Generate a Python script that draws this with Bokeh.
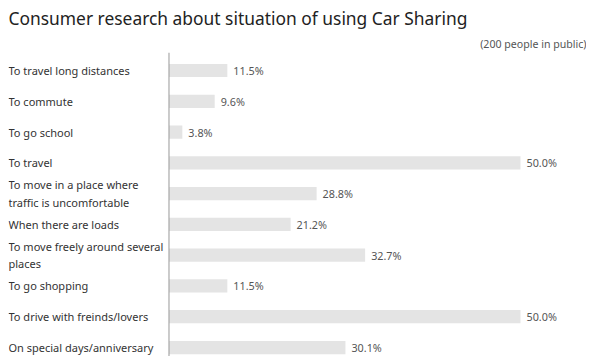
from bokeh.plotting import figure
from bokeh.models import ColumnDataSource, Range1d, Span, Title
from bokeh.core.properties import value
from bokeh.embed import file_html
from bokeh.resources import INLINE

# ---- data ----
categories = [
    "To travel long distances",
    "To commute",
    "To go school",
    "To travel",
    "To move in a place where\ntraffic is uncomfortable",
    "When there are loads",
    "To move freely around several\nplaces",
    "To go shopping",
    "To drive with freinds/lovers",
    "On special days/anniversary",
]
value_labels = ["11.5%", "9.6%", "3.8%", "50.0%", "28.8%", "21.2%", "32.7%", "11.5%", "50.0%", "30.1%"]
# bar lengths as drawn in the reference (in % units; 50% bar = full length)
bar_lengths = [8.3, 6.5, 1.9, 50.0, 21.0, 17.3, 27.9, 8.3, 50.0, 25.1]

title_text = "Consumer research about situation of using Car Sharing"
subtitle_text = "(200 people in public)"

FONT = "Noto Sans"

rows = list(range(len(categories)))
src = ColumnDataSource(dict(cat=categories, lab=value_labels, val=bar_lengths, row=rows))

x_start, x_end = -22.83, 59.39
p = figure(width=586, height=356, output_backend="svg", toolbar_location=None,
           x_range=Range1d(x_start, x_end), y_range=Range1d(9.292, -0.585),
           min_border_left=8, min_border_right=0, min_border_bottom=0, min_border_top=0,
           title=None)
p.axis.visible = False
p.grid.visible = False
p.outline_line_color = None
p.background_fill_color = "white"

p.add_layout(Title(text=subtitle_text, align="right", text_font=FONT, text_font_size="10.6px",
                   text_font_style="normal", text_color="#555555", standoff=4), "above")
p.add_layout(Title(text=title_text, align="left", text_font=FONT, text_font_size="17.4px",
                   text_font_style="normal", text_color="#222222", standoff=6), "above")

p.hbar(y="row", left=0, right="val", height=0.43, source=src,
       fill_color="#e4e4e4", line_color=None)

p.add_layout(Span(location=0, dimension="height", line_color="#999999", line_width=1))

p.text(x=x_start, y="row", text="cat", source=src, text_font=value(FONT),
       text_font_size="11px", text_color="#333333", text_baseline="middle",
       text_align="left", text_line_height=1.15)
p.text(x="val", y="row", text="lab", source=src, x_offset=6, text_font=value(FONT),
       text_font_size="10.8px", text_color="#555555", text_baseline="middle", text_align="left")

open("out.html", "w").write(file_html(p, INLINE))
